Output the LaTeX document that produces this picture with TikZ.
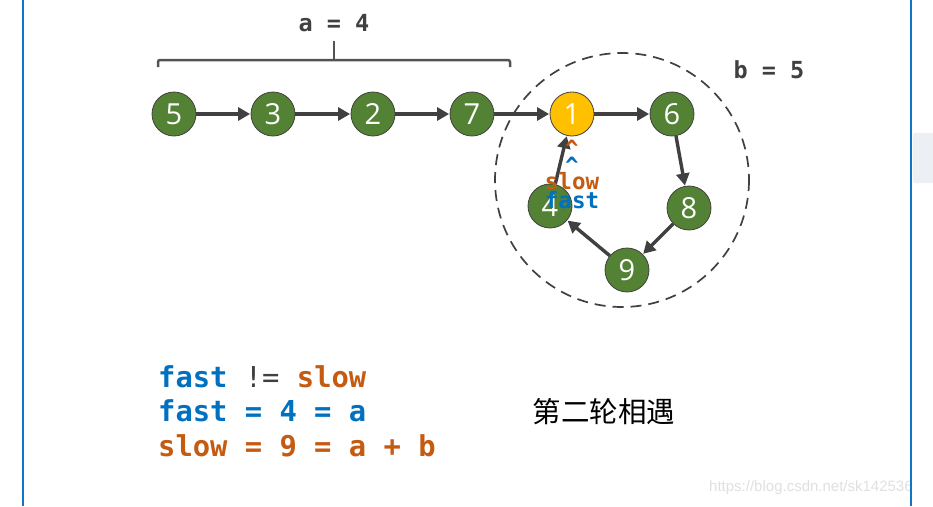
\documentclass[tikz,border=0pt]{standalone}
\usepackage{fontspec}
\setmainfont{Open Sans}
\newfontfamily\codefont{DejaVu Sans Mono}
\newfontfamily\cjk{Noto Sans CJK SC}
\newfontfamily\urlfont{Liberation Sans}
\usetikzlibrary{arrows.meta}
\definecolor{nodegreen}{HTML}{548235}
\definecolor{nodeyellow}{HTML}{FFC000}
\definecolor{codeblue}{HTML}{0070C0}
\definecolor{codeorange}{HTML}{C55A11}
\definecolor{darkline}{HTML}{404040}
\definecolor{framebl}{HTML}{1075C8}
\tikzset{
  lnode/.style={circle, draw=darkline, line width=0.8pt, fill=nodegreen, minimum size=44pt, inner sep=0pt, text=white, font=\fontsize{29}{29}\selectfont},
  ynode/.style={lnode, fill=nodeyellow},
  link/.style={draw=darkline, line width=3.4pt, -{Triangle[length=12pt,width=13pt]}, shorten >=0.5pt},
  code/.style={anchor=west, inner sep=0pt, font=\codefont\bfseries\fontsize{28.8}{28.8}\selectfont},
  small/.style={inner sep=0pt, font=\codefont\bfseries\fontsize{22.5}{22.5}\selectfont},
}
\begin{document}
\begin{tikzpicture}[x=1pt,y=-1pt]
\useasboundingbox (0,0) rectangle (933,506);
\fill[white] (0,0) rectangle (933,506);
% watermark and side UI
\node[anchor=west, inner sep=0pt, text=black!12, font=\urlfont\fontsize{15}{15}\selectfont] (wm) at (709,488) {https://blog.csdn.net/sk142536};
\fill[rounded corners=2pt, fill={rgb,255:red,236;green,239;blue,243}] (913,133) rectangle (940,183);
\draw[framebl, line width=2pt] (23,0) -- (23,506);
\draw[framebl, line width=2pt] (911,0) -- (911,506);
% brace
\draw[darkline!90, line width=2.5pt, rounded corners=2pt] (158,67) -- (158,60) -- (510,60) -- (510,67);
\draw[darkline!90, line width=2.5pt] (334,60) -- (334,41);
\node[small, text=darkline, font=\codefont\bfseries\fontsize{23.5}{23.5}\selectfont] (alab) at (334,23) {a = 4};
\node[small, text=darkline, font=\codefont\bfseries\fontsize{23.5}{23.5}\selectfont] (blab) at (769,70) {b = 5};
% dashed circle
\draw[darkline, line width=1.7pt, dash pattern=on 11pt off 7pt] (622,180) circle (127);
% nodes
\node[lnode] (n5) at (174,114) {5};
\node[lnode] (n3) at (273,114) {3};
\node[lnode] (n2) at (373,114) {2};
\node[lnode] (n7) at (472,114) {7};
\node[ynode] (n1) at (572,114) {1};
\node[lnode] (n6) at (672,114) {6};
\node[lnode] (n8) at (689,208) {8};
\node[lnode] (n9) at (627,270) {9};
\node[lnode] (n4) at (550,206) {4};
% links
\draw[link] (n5) -- (n3);
\draw[link] (n3) -- (n2);
\draw[link] (n2) -- (n7);
\draw[link] (n7) -- (n1);
\draw[link] (n1) -- (n6);
\draw[link] (n6) -- (n8);
\draw[link] (n8) -- (n9);
\draw[link] (n9) -- (n4);
\draw[link] (n4) -- (n1);
% pointers
\node[small, text=codeorange] (c1) at (572,148) {\textasciicircum};
\node[small, text=codeblue] (c2) at (572,165) {\textasciicircum};
\node[small, text=codeorange] (slowl) at (572,181) {slow};
\node[small, text=codeblue] (fastl) at (572,200) {fast};
% code text
\node[code] (l1) at (158,377) {\textcolor{codeblue}{fast} \textcolor{darkline}{\mdseries !=} \textcolor{codeorange}{slow}};
\node[code, text=codeblue] (l2) at (158,411) {fast = 4 = a};
\node[code, text=codeorange] (l3) at (158,446) {slow = 9 = a + b};
\node[inner sep=0pt, font=\cjk\fontsize{28.5}{28.5}\selectfont] (cn) at (604,412) {第二轮相遇};
\end{tikzpicture}
\end{document}
